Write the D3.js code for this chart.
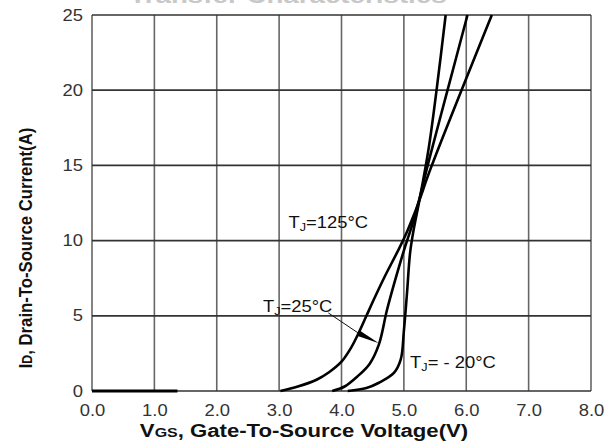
<!DOCTYPE html>
<html>
  <head>
    <meta charset="utf-8">
    <script src="https://cdn.jsdelivr.net/npm/d3@7"></script>
    <style>
      body { margin: 0; background: white; }
      svg { display: block; font-family: Arial, 'Liberation Sans', sans-serif; }
    </style>
  </head>
  <body>
    <script>
      // transfer characteristics, Id vs Vgs at three junction temps
      const vTicks = [0, 1, 2, 3, 4, 5, 6, 7, 8]
      const iTicks = [0, 5, 10, 15, 20, 25]

      const leakage = [[0, 0], [1.37, 0]]

      const curve125 = [[3.02, 0], [3.3, 0.3], [3.6, 0.75], [3.8, 1.25], [4.0, 1.95], [4.15, 2.85],
        [4.28, 3.9], [4.4, 5.0], [4.52, 6.1], [4.68, 7.5], [4.89, 9.2], [5.02, 10.3],
        [5.16, 11.7], [5.25, 12.7], [5.43, 14.8], [6.41, 25]]
      const curve25 = [[3.85, 0], [4.05, 0.3], [4.25, 0.95], [4.45, 1.8], [4.6, 3.1], [4.73, 5.4],
        [4.89, 7.8], [5.02, 9.6], [5.13, 11], [5.25, 12.8], [5.4, 15.3], [5.7, 20], [6.02, 25]]
      const curveM20 = [[4.1, 0], [4.4, 0.2], [4.6, 0.55], [4.84, 1.2], [4.95, 2.1], [5.0, 4.0],
        [5.05, 6.5], [5.1, 9.2], [5.16, 10.8], [5.25, 12.7], [5.4, 16.2],
        [5.53, 20.2], [5.67, 25]]

      const labels = [
        {sub: 'J', rest: '=125°C', v: 3.15, i: 11.2},
        {sub: 'J', rest: '=25°C', v: 2.74, i: 5.65},
        {sub: 'J', rest: '= - 20°C', v: 5.1, i: 1.93}
      ]
      // arrow from the 25C label to its curve
      const arrow = [[3.79, 5.19], [4.27, 3.85], [4.6, 3.17]]

      const W = 616, H = 446
      const svg = d3.select('body').append('svg').attr('width', W).attr('height', H)

      const x = d3.scaleLinear().domain([0, 8]).range([92, 591])
      const y = d3.scaleLinear().domain([0, 25]).range([391, 15])
      const sx = 1.15 // text in the source is stretched sideways

      // title, mostly cut off at the top
      svg.append('text')
        .attr('transform', `translate(288,3) scale(1.26,1)`)
        .attr('text-anchor', 'middle')
        .attr('font-size', 22).attr('font-weight', 'bold')
        .attr('fill', '#c8c8c8')
        .text('Transfer Characteristics')

      // grid
      svg.append('g').attr('stroke', '#666').attr('stroke-width', 1.6)
        .selectAll('line').data(vTicks).join('line')
        .attr('x1', d => x(d)).attr('x2', d => x(d))
        .attr('y1', y(0)).attr('y2', y(25))
      svg.append('g').attr('stroke', '#333').attr('stroke-width', 1.7)
        .selectAll('line').data(iTicks).join('line')
        .attr('x1', x(0)).attr('x2', x(8))
        .attr('y1', d => y(d)).attr('y2', d => y(d))

      // axes (labels only, grid does the lines)
      const xAxis = svg.append('g').attr('transform', `translate(0,${y(0)})`)
        .call(d3.axisBottom(x).tickValues(vTicks).tickFormat(d3.format('.1f')).tickSize(0).tickPadding(14))
      const yAxis = svg.append('g').attr('transform', `translate(${x(0)},0)`)
        .call(d3.axisLeft(y).tickValues(iTicks).tickSize(0).tickPadding(9))
      ;[xAxis, yAxis].forEach(a => {
        a.select('.domain').remove()
        a.selectAll('text').attr('font-size', 16).attr('fill', '#333')
          .attr('font-family', 'Arial, Liberation Sans, sans-serif')
          .attr('transform', `scale(${sx},1)`)
      })
      yAxis.selectAll('text').attr('x', -9 / sx)

      // curves
      const line = d3.line().x(d => x(d[0])).y(d => y(d[1])).curve(d3.curveCatmullRom.alpha(0.5))
      svg.append('path').attr('d', line(leakage))
        .attr('fill', 'none').attr('stroke', '#000').attr('stroke-width', 3)
      ;[curve125, curve25, curveM20].forEach(c => {
        svg.append('path').attr('d', line(c))
          .attr('fill', 'none').attr('stroke', '#000').attr('stroke-width', 2.6)
      })

      // labels
      labels.forEach(l => {
        const t = svg.append('text')
          .attr('transform', `translate(${x(l.v)},${y(l.i)}) scale(${sx},1)`)
          .attr('dy', '0.35em')
          .attr('font-size', 16).attr('fill', '#111')
        t.append('tspan').text('T')
        t.append('tspan').attr('font-size', 11).attr('dy', 3).text(l.sub)
        t.append('tspan').attr('dy', -3).text(l.rest)
      })

      // arrow: thin line then filled head
      svg.append('line')
        .attr('x1', x(arrow[0][0])).attr('y1', y(arrow[0][1]))
        .attr('x2', x(arrow[1][0])).attr('y2', y(arrow[1][1]))
        .attr('stroke', '#111').attr('stroke-width', 1)
      {
        const bx = x(arrow[1][0]), by = y(arrow[1][1])
        const tx = x(arrow[2][0]), ty = y(arrow[2][1])
        const dx = tx - bx, dy = ty - by, len = Math.hypot(dx, dy)
        const nx = -dy / len * 3, ny = dx / len * 3
        svg.append('path')
          .attr('d', `M${bx + nx},${by + ny}L${tx},${ty}L${bx - nx},${by - ny}Z`)
          .attr('fill', '#000')
      }

      // axis titles
      const xt = svg.append('text')
        .attr('transform', 'translate(304,437) scale(1.23,1)')
        .attr('text-anchor', 'middle')
        .attr('font-size', 18).attr('font-weight', 'bold').attr('fill', '#111')
      xt.append('tspan').text('V')
      xt.append('tspan').attr('font-size', 13).text('GS')
      xt.append('tspan').text(', Gate-To-Source Voltage(V)')

      const yt = svg.append('text')
        .attr('transform', `translate(32,248) rotate(-90) scale(0.88,1)`)
        .attr('text-anchor', 'middle')
        .attr('font-size', 19).attr('font-weight', 'bold').attr('fill', '#111')
      yt.append('tspan').text('I')
      yt.append('tspan').attr('font-size', 14).text('D')
      yt.append('tspan').text(', Drain-To-Source Current(A)')
    </script>
  </body>
</html>
